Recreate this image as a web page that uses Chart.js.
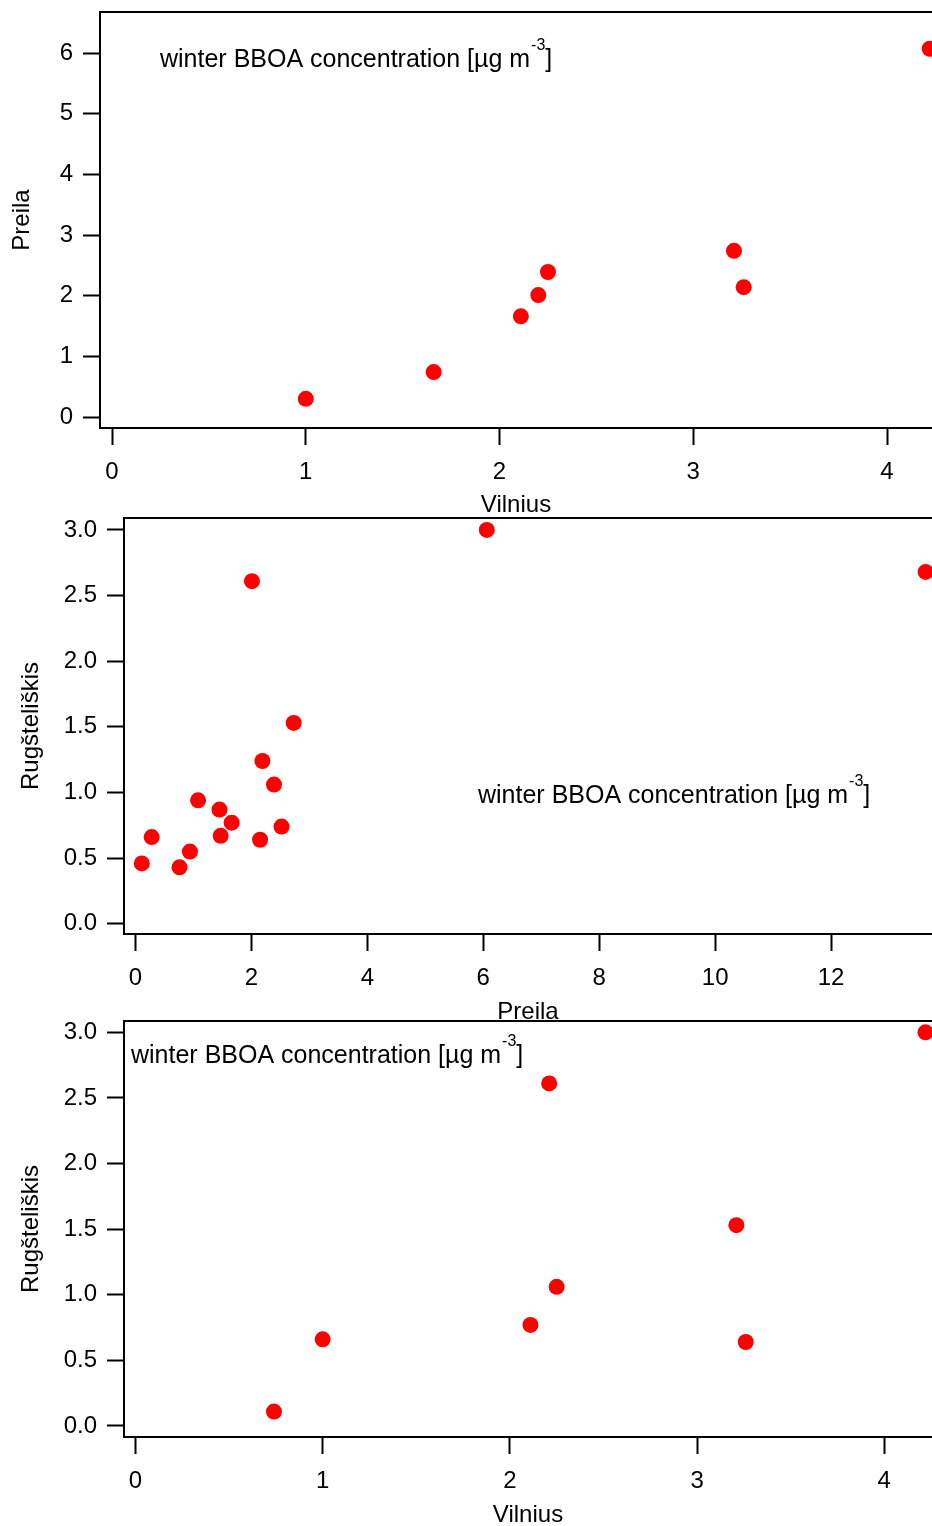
<!DOCTYPE html>
<html>
<head>
<meta charset="utf-8">
<title>winter BBOA concentration</title>
<script src="https://cdn.jsdelivr.net/npm/chart.js@4.4.0/dist/chart.umd.min.js"></script>
<style>
    html, body { margin: 0; padding: 0; background: #fff; width: 932px; height: 1526px; overflow: hidden; }
    .panel { position: absolute; left: 0; width: 932px; }
    canvas { display: block; }
</style>
</head>
<body>
<div class="panel" id="p1"><canvas id="c1"></canvas></div>
<div class="panel" id="p2"><canvas id="c2"></canvas></div>
<div class="panel" id="p3"><canvas id="c3"></canvas></div>
<script>
// Panel 1: Preila vs Vilnius
var vilniusA = [1.00, 1.66, 2.11, 2.20, 2.25, 3.21, 3.26, 4.22];
var preilaA  = [0.30, 0.74, 1.66, 2.01, 2.39, 2.74, 2.14, 6.07];

// Panel 2: Rugšteliškis vs Preila
var preilaB = [0.11, 0.28, 0.76, 0.94, 1.08, 1.45, 1.47, 1.66, 2.01, 2.15, 2.19, 2.39, 2.52, 2.73, 6.06, 13.63];
var rugB    = [0.46, 0.66, 0.43, 0.55, 0.94, 0.87, 0.67, 0.77, 2.61, 0.64, 1.24, 1.06, 0.74, 1.53, 3.00, 2.68];

// Panel 3: Rugšteliškis vs Vilnius
var vilniusC = [0.74, 1.00, 2.11, 2.21, 2.25, 3.21, 3.26, 4.22];
var rugC     = [0.11, 0.66, 0.77, 2.61, 1.06, 1.53, 0.64, 3.00];

// tick labels
var xTicksA = [0, 1, 2, 3, 4];
var yTicksA = [0, 1, 2, 3, 4, 5, 6];
var xTicksB = [0, 2, 4, 6, 8, 10, 12];
var yTicksB = [0, 0.5, 1.0, 1.5, 2.0, 2.5, 3.0];
var xTicksC = [0, 1, 2, 3, 4];
var yTicksC = [0, 0.5, 1.0, 1.5, 2.0, 2.5, 3.0];

var noteText = 'winter BBOA concentration [\u00b5g m';

Chart.defaults.font.family = "'Liberation Sans', Arial, Helvetica, sans-serif";
Chart.defaults.color = '#000';

var PAD_TOP = 40;

var makePanel = function (id, p) {
    var canvas = document.getElementById(id);
    canvas.width = 932;
    canvas.height = PAD_TOP + (p.frameBottom - p.frameTop) + p.axisH;
    canvas.parentNode.style.top = (p.frameTop - PAD_TOP) + 'px';

    // top frame line + text note
    var framePlugin = {
        id: 'frame' + id,
        afterDraw: function (chart) {
            var ctx = chart.ctx;
            var a = chart.chartArea;
            ctx.save();
            ctx.strokeStyle = '#000';
            ctx.lineWidth = 2;
            ctx.beginPath();
            ctx.moveTo(a.left - 1, a.top);
            ctx.lineTo(a.right, a.top);
            ctx.stroke();

            var x = a.left + p.noteDx;
            var y = a.top + p.noteDy;
            ctx.fillStyle = '#000';
            ctx.textBaseline = 'alphabetic';
            ctx.textAlign = 'left';
            ctx.font = "25px 'Liberation Sans', Arial, sans-serif";
            ctx.fillText(noteText, x, y);
            x += ctx.measureText(noteText).width + 1;
            ctx.font = "16px 'Liberation Sans', Arial, sans-serif";
            ctx.fillText('-3', x, y - 17);
            x += ctx.measureText('-3').width;
            ctx.font = "25px 'Liberation Sans', Arial, sans-serif";
            ctx.fillText(']', x, y);
            ctx.restore();
        }
    };

    var axisBase = {
        type: 'linear',
        grid: { drawOnChartArea: false, drawTicks: true, tickLength: 17, tickWidth: 2, tickColor: '#000', color: '#000' },
        border: { display: true, color: '#000', width: 2 }
    };

    return new Chart(canvas, {
        type: 'scatter',
        data: {
            datasets: [{
                data: p.xs.map(function (x, i) { return { x: x, y: p.ys[i] }; }),
                pointRadius: 8,
                pointHoverRadius: 8,
                pointBackgroundColor: '#ff0000',
                pointBorderWidth: 0,
                clip: false
            }]
        },
        options: {
            responsive: false,
            animation: false,
            events: [],
            layout: { autoPadding: false, padding: { top: PAD_TOP, left: 0, right: 0, bottom: 0 } },
            plugins: { legend: { display: false }, tooltip: { enabled: false } },
            scales: {
                x: Object.assign({}, axisBase, {
                    position: 'bottom',
                    min: p.xMin, max: p.xMax,
                    afterBuildTicks: function (s) { s.ticks = p.xTicks.map(function (v) { return { value: v }; }); },
                    afterFit: function (s) { s.height = p.axisH; },
                    ticks: { color: '#000', padding: 13, font: { size: 24 }, maxRotation: 0, autoSkip: false },
                    title: { display: true, text: p.xTitle, color: '#000', font: { size: 24 }, padding: { top: 0, bottom: 0 } }
                }),
                y: Object.assign({}, axisBase, {
                    position: 'left',
                    min: p.yMin, max: p.yMax,
                    afterBuildTicks: function (s) { s.ticks = p.yTicks.map(function (v) { return { value: v }; }); },
                    afterFit: function (s) { s.width = p.frameLeft; },
                    ticks: {
                        color: '#000', padding: 10, font: { size: 24 }, autoSkip: false,
                        callback: function (v) { return p.yDec ? Number(v).toFixed(1) : String(v); }
                    },
                    title: { display: true, text: p.yTitle, color: '#000', font: { size: 24 }, padding: { top: p.yTitlePad, bottom: 0 } }
                })
            }
        },
        plugins: [framePlugin]
    });
};

makePanel('c1', {
    xs: vilniusA, ys: preilaA, xTicks: xTicksA, yTicks: yTicksA,
    xMin: -0.062, xMax: 4.232, yMin: -0.181, yMax: 6.676, yDec: false,
    xTitle: 'Vilnius', yTitle: 'Preila', yTitlePad: 8,
    frameTop: 12, frameBottom: 428, frameLeft: 100, axisH: 92,
    noteDx: 60, noteDy: 55
});

makePanel('c2', {
    xs: preilaB, ys: rugB, xTicks: xTicksB, yTicks: yTicksB,
    xMin: -0.197, xMax: 13.74, yMin: -0.078, yMax: 3.091, yDec: true,
    xTitle: 'Preila', yTitle: 'Rugšteliškis', yTitlePad: 17,
    frameTop: 518, frameBottom: 934, frameLeft: 124, axisH: 93,
    noteDx: 354, noteDy: 285
});

makePanel('c3', {
    xs: vilniusC, ys: rugC, xTicks: xTicksC, yTicks: yTicksC,
    xMin: -0.061, xMax: 4.255, yMin: -0.084, yMax: 3.086, yDec: true,
    xTitle: 'Vilnius', yTitle: 'Rugšteliškis', yTitlePad: 17,
    frameTop: 1021, frameBottom: 1437, frameLeft: 124, axisH: 93,
    noteDx: 7, noteDy: 42
});
</script>
</body>
</html>
